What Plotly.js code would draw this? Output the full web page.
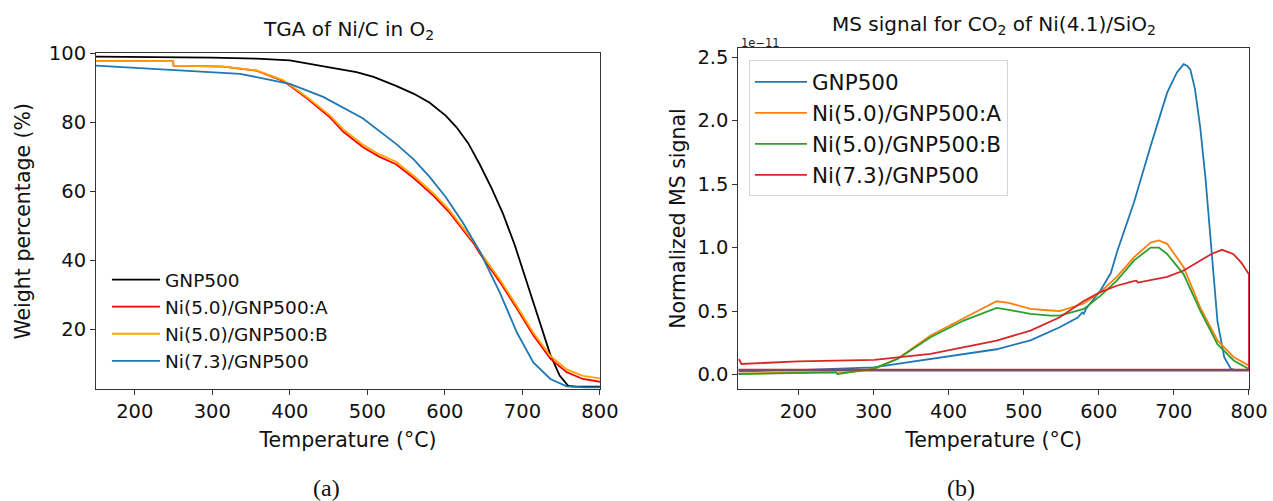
<!DOCTYPE html>
<html><head><meta charset="utf-8">
<script src="https://cdn.plot.ly/plotly-3.0.1.min.js"></script>
<style>html,body{margin:0;padding:0;background:#fff}#chart{width:1273px;height:501px}</style>
</head><body><div id="chart"></div>
<script>
// ---------- (a) TGA of Ni/C in O2 : weight percentage (%) vs temperature (°C)
var tgaSeriesNames = ['GNP500', 'Ni(5.0)/GNP500:A', 'Ni(5.0)/GNP500:B', 'Ni(7.3)/GNP500'];
var tgaT_gnp  = [150, 250, 300, 357, 400, 451, 486, 508, 537, 560, 580, 601, 615, 630, 645, 660, 675, 690, 703, 714, 725, 736, 748, 759, 770, 800];
var tgaW_gnp  = [99.1, 99.0, 98.8, 98.5, 98.0, 96.0, 94.6, 93.2, 90.6, 88.3, 85.8, 82.0, 78.6, 74.0, 67.8, 61.0, 53.5, 44.5, 35.5, 27.3, 19.6, 12.6, 6.6, 3.6, 3.4, 3.4];
var tgaT_ni5  = [150, 249.5, 250, 314, 357, 392, 422, 452, 469, 494, 515, 537, 560, 585, 605, 623, 638, 645, 658, 671, 693, 714, 736, 757, 778, 800];
var tgaW_ni5A = [97.8, 97.8, 96.5, 96.2, 95.0, 92.0, 87.0, 81.4, 77.3, 72.9, 70.1, 67.9, 63.8, 58.8, 54.1, 48.8, 44.6, 42.0, 37.7, 33.7, 26.0, 18.3, 11.5, 7.6, 5.6, 4.8];
var tgaW_ni5B = [97.8, 97.8, 96.5, 96.2, 95.1, 92.2, 87.4, 82.0, 78.0, 73.6, 70.8, 68.6, 64.5, 59.5, 54.8, 49.5, 45.2, 42.6, 38.4, 34.4, 26.7, 19.0, 12.3, 8.4, 6.5, 5.8];
var tgaT_ni73 = [150, 250, 336, 400, 443, 494, 537, 560, 580, 601, 623, 645, 658, 671, 693, 714, 736, 757, 780, 800];
var tgaW_ni73 = [96.5, 95.3, 94.1, 91.2, 87.4, 81.2, 73.8, 69.2, 64.3, 58.4, 51.0, 42.6, 36.8, 30.6, 19.0, 10.4, 5.6, 3.45, 3.2, 3.2];

// ---------- (b) MS signal for CO2 : normalized signal in units of 1e-11 vs temperature (°C)
var msSeriesNames = ['GNP500', 'Ni(5.0)/GNP500:A', 'Ni(5.0)/GNP500:B', 'Ni(7.3)/GNP500'];
var msT_gnp  = [120, 200, 300, 376, 464, 509, 548, 572, 578, 580, 583, 602, 616, 625, 647, 669, 691, 704, 713, 718, 722, 728, 735, 742, 750, 758, 767, 776, 785, 800, 800, 120];
var msS_gnp  = [0.026, 0.035, 0.058, 0.124, 0.20, 0.27, 0.373, 0.45, 0.49, 0.48, 0.52, 0.66, 0.80, 0.98, 1.36, 1.80, 2.22, 2.38, 2.445, 2.43, 2.40, 2.25, 1.95, 1.55, 0.95, 0.42, 0.137, 0.045, 0.032, 0.031, 0.031, 0.031];
var msT_ni5  = [120, 200, 250, 252, 300, 332, 376, 420, 464, 480, 509, 536, 548, 580, 602, 624, 647, 669, 680, 691, 713, 735, 758, 780, 800];
var msS_ni5A = [0.008, 0.012, 0.020, 0.008, 0.045, 0.125, 0.308, 0.444, 0.578, 0.565, 0.518, 0.505, 0.50, 0.56, 0.65, 0.77, 0.925, 1.04, 1.057, 1.03, 0.846, 0.53, 0.27, 0.136, 0.071];
var msS_ni5B = [0.005, 0.010, 0.018, 0.005, 0.045, 0.124, 0.294, 0.426, 0.526, 0.51, 0.479, 0.465, 0.465, 0.518, 0.62, 0.74, 0.90, 1.0, 1.0, 0.95, 0.79, 0.505, 0.24, 0.11, 0.045];
var msT_ni73 = [120, 121.5, 124, 200, 301, 376, 464, 509, 548, 580, 602, 624, 645, 650, 652, 669, 691, 713, 735, 750, 764, 779, 790, 800, 800, 120];
var msS_ni73 = [0.12, 0.116, 0.084, 0.105, 0.116, 0.163, 0.268, 0.347, 0.452, 0.58, 0.65, 0.70, 0.735, 0.74, 0.725, 0.745, 0.77, 0.82, 0.90, 0.95, 0.983, 0.95, 0.88, 0.79, 0.039, 0.039];

var tgaTicks = [20, 40, 60, 80, 100];
var msTicks = [0, 0.5, 1.0, 1.5, 2.0, 2.5];
var tempTicks = [200, 300, 400, 500, 600, 700, 800];

var FONT = 'DejaVu Sans, Arial, sans-serif';
var LW = 1.8;

function line(x, y, name, color, xa, ya, leg) {
  return {x: x, y: y, name: name, type: 'scatter', mode: 'lines',
          line: {color: color, width: LW}, xaxis: xa, yaxis: ya, legend: leg, hoverinfo: 'skip'};
}

var data = [
  line(tgaT_gnp, tgaW_gnp, tgaSeriesNames[0], '#000000', 'x', 'y', 'legend'),
  line(tgaT_ni5, tgaW_ni5A, tgaSeriesNames[1], '#ff0000', 'x', 'y', 'legend'),
  line(tgaT_ni5, tgaW_ni5B, tgaSeriesNames[2], '#ffa500', 'x', 'y', 'legend'),
  line(tgaT_ni73, tgaW_ni73, tgaSeriesNames[3], '#1f77b4', 'x', 'y', 'legend'),
  line(msT_gnp, msS_gnp, msSeriesNames[0], '#1f77b4', 'x2', 'y2', 'legend2'),
  line(msT_ni5, msS_ni5A, msSeriesNames[1], '#ff7f0e', 'x2', 'y2', 'legend2'),
  line(msT_ni5, msS_ni5B, msSeriesNames[2], '#2ca02c', 'x2', 'y2', 'legend2'),
  line(msT_ni73, msS_ni73, msSeriesNames[3], '#d62728', 'x2', 'y2', 'legend2')
];

function axis(extra) {
  var a = {showgrid: false, zeroline: false, showline: true, mirror: true,
           linecolor: '#333', linewidth: 1, ticks: 'outside', ticklen: 5, tickwidth: 1,
           tickcolor: '#333', tickfont: {family: FONT, size: 19.5, color: '#111'}, automargin: false};
  for (var k in extra) a[k] = extra[k];
  return a;
}

var layout = {
  width: 1273, height: 501,
  paper_bgcolor: '#fff', plot_bgcolor: '#fff',
  margin: {l: 96, r: 24, t: 47.5, b: 112},
  font: {family: FONT, color: '#111'},
  showlegend: true,
  xaxis: axis({domain: [0, 0.4371], range: [150, 800], tickvals: tempTicks, anchor: 'y',
    title: {text: 'Temperature (°C)', font: {family: FONT, size: 20.5, color: '#111'}, standoff: 10}}),
  yaxis: axis({domain: [0, 0.9839], range: [2.7, 100], tickvals: tgaTicks, anchor: 'x',
    title: {text: 'Weight percentage (%)', font: {family: FONT, size: 20.5, color: '#111'}, standoff: 12}}),
  xaxis2: axis({domain: [0.5571, 1], range: [120, 800], tickvals: tempTicks, anchor: 'y2',
    title: {text: 'Temperature (°C)', font: {family: FONT, size: 20.5, color: '#111'}, standoff: 10}}),
  yaxis2: axis({domain: [0, 1], range: [-0.113, 2.572], tickvals: msTicks, tickformat: '.1f', anchor: 'x2',
    title: {text: 'Normalized MS signal', font: {family: FONT, size: 20.5, color: '#111'}, standoff: 6}}),
  legend: {x: 0.0095, y: 0.375, xanchor: 'left', yanchor: 'top', bgcolor: 'rgba(255,255,255,0)',
    borderwidth: 0, itemwidth: 48, font: {family: FONT, size: 18.5, color: '#111'}, traceorder: 'normal'},
  legend2: {x: 0.5663, y: 0.9634, xanchor: 'left', yanchor: 'top', bgcolor: '#fff',
    bordercolor: '#d4d4d4', borderwidth: 1, itemwidth: 52, font: {family: FONT, size: 21.5, color: '#111'}, traceorder: 'normal'},
  annotations: [
    {text: 'TGA of Ni/C in O<sub>2</sub>', xref: 'paper', yref: 'paper', x: 0.2186, y: 1.054,
     xanchor: 'center', yanchor: 'middle', showarrow: false, font: {family: FONT, size: 20, color: '#111'}},
    {text: 'MS signal for CO<sub>2</sub> of Ni(4.1)/SiO<sub>2</sub>', xref: 'paper', yref: 'paper', x: 0.7788, y: 1.066,
     xanchor: 'center', yanchor: 'middle', showarrow: false, font: {family: FONT, size: 20, color: '#111'}},
    {text: '1e\u221211', xref: 'paper', yref: 'paper', x: 0.5577, y: 1.0132,
     xanchor: 'left', yanchor: 'middle', showarrow: false, font: {family: FONT, size: 11.5, color: '#222'}},
    {text: '(a)', xref: 'paper', yref: 'paper', x: 0.1995, y: -0.29,
     xanchor: 'center', yanchor: 'middle', showarrow: false, font: {family: 'Liberation Serif, DejaVu Serif, serif', size: 24, color: '#111'}},
    {text: '(b)', xref: 'paper', yref: 'paper', x: 0.7502, y: -0.29,
     xanchor: 'center', yanchor: 'middle', showarrow: false, font: {family: 'Liberation Serif, DejaVu Serif, serif', size: 24, color: '#111'}}
  ]
};

Plotly.newPlot('chart', data, layout, {displayModeBar: false, staticPlot: true});
</script></body></html>
